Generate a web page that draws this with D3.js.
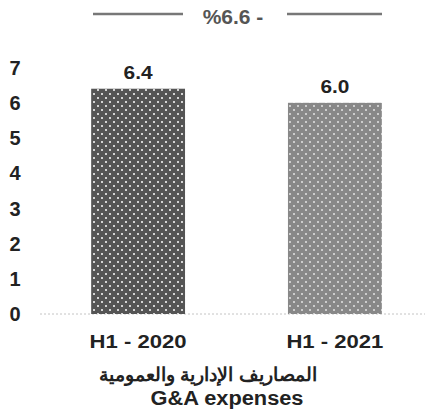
<!DOCTYPE html>
<html><head><meta charset="utf-8">
<script src="https://cdn.jsdelivr.net/npm/d3@7"></script>
<style>body{margin:0;background:#fff}svg{display:block}text{font-family:"Liberation Sans",Arial,sans-serif;font-weight:bold}</style>
</head><body>
<svg id="c" width="425" height="411"></svg>
<script>
const categories = ["H1 - 2020", "H1 - 2021"];
const values = [6.4, 6.0];
const valueLabels = ["6.4", "6.0"];
const yTicks = [0, 1, 2, 3, 4, 5, 6, 7];
const changeLabel = "%6.6 -";
const titleAr = "المصاريف الإدارية والعمومية";
const titleEn = "G&A expenses";
const barColors = ["#555555", "#888888"];
const dotColors = ["#d4d4d4", "#cccccc"];

const svg = d3.select("#c");
const y = d3.scaleLinear().domain([0, 7]).range([314, 67.6]);
const x = d3.scaleBand().domain(categories).range([40, 433]).paddingInner(0.523).paddingOuter(0.26);

const defs = svg.append("defs");
categories.forEach((c, i) => {
  const p = defs.append("pattern").attr("id", "pat" + i).attr("patternUnits", "userSpaceOnUse")
    .attr("width", 8).attr("height", 8);
  p.append("rect").attr("width", 8).attr("height", 8).attr("fill", barColors[i]);
  p.append("rect").attr("x", 1).attr("y", 1).attr("width", 2).attr("height", 2).attr("fill", dotColors[i]);
  p.append("rect").attr("x", 5).attr("y", 5).attr("width", 2).attr("height", 2).attr("fill", dotColors[i]);
});

// baseline
svg.append("line").attr("x1", 40).attr("x2", 425).attr("y1", y(0)).attr("y2", y(0))
  .attr("stroke", "#c4c4c4").attr("stroke-width", 1).attr("stroke-dasharray", "2,2");

// y axis labels
svg.append("g").selectAll("text").data(yTicks).join("text")
  .attr("x", 15).attr("y", d => y(d)).attr("dy", "0.36em").attr("text-anchor", "middle")
  .attr("font-size", 20).attr("fill", "#222").text(d => d);

// bars
svg.append("g").selectAll("rect").data(values).join("rect")
  .attr("x", (d, i) => x(categories[i])).attr("width", x.bandwidth())
  .attr("y", d => y(d)).attr("height", d => y(0) - y(d))
  .attr("fill", (d, i) => `url(#pat${i})`);

// value labels
svg.append("g").selectAll("text").data(values).join("text")
  .attr("x", (d, i) => x(categories[i]) + x.bandwidth() / 2).attr("y", d => y(d) - 10)
  .attr("text-anchor", "middle").attr("font-size", 19).attr("fill", "#222")
  .attr("textLength", 29).attr("lengthAdjust", "spacingAndGlyphs")
  .text((d, i) => valueLabels[i]);

// category labels
svg.append("g").selectAll("text").data(categories).join("text")
  .attr("x", d => x(d) + x.bandwidth() / 2).attr("y", 348)
  .attr("text-anchor", "middle").attr("font-size", 19).attr("fill", "#222")
  .attr("textLength", 97).attr("lengthAdjust", "spacingAndGlyphs")
  .text(d => d);

// titles
svg.append("text").attr("x", 208).attr("y", 381).attr("text-anchor", "middle")
  .attr("font-size", 19).attr("fill", "#222").text(titleAr);
svg.append("text").attr("x", 227).attr("y", 405).attr("text-anchor", "middle")
  .attr("font-size", 20).attr("fill", "#222")
  .attr("textLength", 153).attr("lengthAdjust", "spacingAndGlyphs").text(titleEn);

// change indicator
svg.append("line").attr("x1", 93).attr("x2", 183).attr("y1", 14).attr("y2", 14).attr("stroke", "#777").attr("stroke-width", 2.5);
svg.append("line").attr("x1", 287).attr("x2", 382).attr("y1", 14).attr("y2", 14).attr("stroke", "#777").attr("stroke-width", 2.5);
svg.append("text").attr("x", 233).attr("y", 24).attr("text-anchor", "middle")
  .attr("font-size", 21).attr("fill", "#555").text(changeLabel);
</script>
</body></html>
